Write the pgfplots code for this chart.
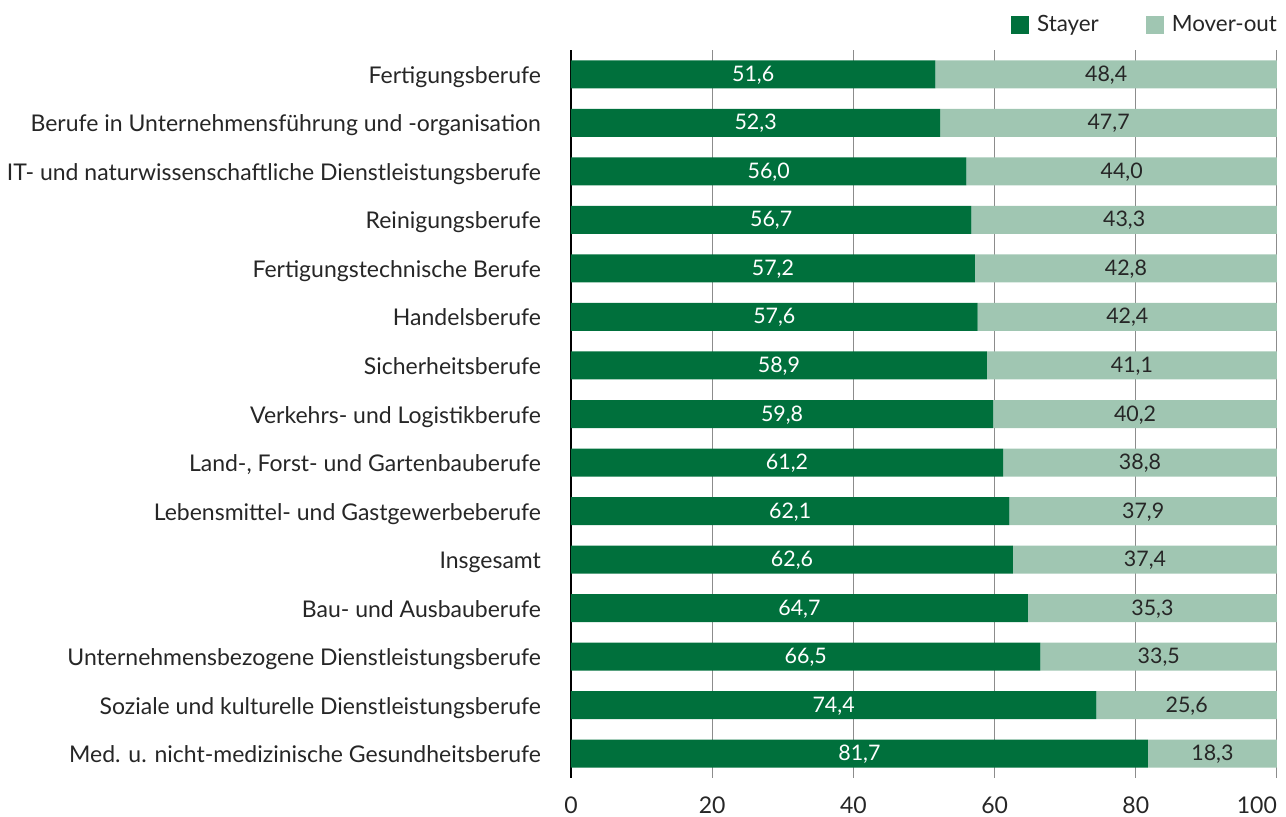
\documentclass[border=0pt]{standalone}
\usepackage{pgfplots}
\pgfplotsset{compat=1.18}
\usepackage{pgfplotstable}
\usepackage{fontspec}
\setmainfont{Lato}
\definecolor{dgreen}{HTML}{00703C}
\definecolor{lgreen}{HTML}{A0C6B2}
\definecolor{txt}{HTML}{262626}
\pgfplotstableread{
idx s m
0 51.6 48.4
1 52.3 47.7
2 56.0 44.0
3 56.7 43.3
4 57.2 42.8
5 57.6 42.4
6 58.9 41.1
7 59.8 40.2
8 61.2 38.8
9 62.1 37.9
10 62.6 37.4
11 64.7 35.3
12 66.5 33.5
13 74.4 25.6
14 81.7 18.3
}\data
\begin{document}
\begin{tikzpicture}
\pgfplotsset{
  common/.style={
    width=353pt, height=364pt, scale only axis,
    xmin=0, xmax=100, ymin=-0.5, ymax=14.5, y dir=reverse,
    /pgf/number format/assume math mode=true,
    /pgf/number format/use comma,
    /pgf/number format/fixed,
  }
}
\begin{axis}[common, name=main,
  xbar stacked, bar width=14pt,
  axis lines*=left,
  x axis line style={draw=none},
  y axis line style={black, line width=0.8pt},
  xtick={0,20,40,60,80},
  extra x ticks={100},
  extra x tick style={grid=major, xticklabel style={anchor=base east, xshift=3.5pt}},
  xmajorgrids, grid style={gray!90, line width=0.5pt},
  major tick length=0pt,
  ytick={0,...,14},
  yticklabels={Fertigungsberufe,
    Berufe in Unternehmensführung und -organisation,
    IT- und naturwissenschaftliche Dienstleistungsberufe,
    Reinigungsberufe,
    Fertigungstechnische Berufe,
    Handelsberufe,
    Sicherheitsberufe,
    Verkehrs- und Logistikberufe,
    {Land-, Forst- und Gartenbauberufe},
    Lebensmittel- und Gastgewerbeberufe,
    Insgesamt,
    Bau- und Ausbauberufe,
    Unternehmensbezogene Dienstleistungsberufe,
    Soziale und kulturelle Dienstleistungsberufe,
    Med. u. nicht-medizinische Gesundheitsberufe},
  yticklabel style={text=txt, anchor=base east, xshift=-11.5pt, yshift=-4.5pt, font=\fontsize{11.5pt}{13pt}\selectfont},
  xticklabel style={text=txt, anchor=base, yshift=-17.5pt, font=\fontsize{11.5pt}{13pt}\selectfont},
  legend style={at={(1,1)}, anchor=east, draw=none, fill=none,
    legend columns=2, yshift=12.75pt, inner sep=0pt, outer sep=0pt,
    nodes={inner sep=0pt},
    font=\fontsize{11.2pt}{13pt}\selectfont\color{txt},
    /tikz/every odd column/.append style={column sep=4pt},
    /tikz/every even column/.append style={column sep=23.5pt}},
  legend image code/.code={\fill[#1] (0pt,-4.5pt) rectangle (9pt,4.5pt);},
]
\addplot[fill=dgreen, draw=none] table[x=s, y=idx] {\data};
\addplot[fill=lgreen, draw=none] table[x=m, y=idx] {\data};
\legend{Stayer, Mover-out}
\end{axis}
\begin{axis}[common, hide axis]
\addplot[only marks, mark=none, nodes near coords, point meta=explicit,
  nodes near coords style={anchor=base, yshift=-3.5pt, text=white, font=\fontsize{10.7pt}{12pt}\selectfont,
    /pgf/number format/fixed zerofill, /pgf/number format/precision=1}]
  table[x expr=\thisrow{s}/2, y=idx, meta=s] {\data};
\addplot[only marks, mark=none, nodes near coords, point meta=explicit,
  nodes near coords style={anchor=base, yshift=-3.5pt, text=txt, font=\fontsize{10.7pt}{12pt}\selectfont,
    /pgf/number format/fixed zerofill, /pgf/number format/precision=1}]
  table[x expr=\thisrow{s}+\thisrow{m}/2, y=idx, meta=m] {\data};
\end{axis}
\pgfresetboundingbox
\path ([shift={(-285.5pt,25pt)}]main.north west) rectangle ([shift={(4.5pt,-19pt)}]main.south east);
\end{tikzpicture}
\end{document}
